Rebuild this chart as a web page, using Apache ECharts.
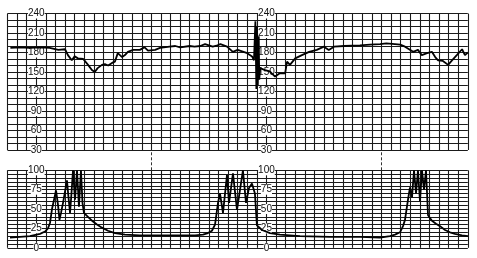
<!DOCTYPE html>
<html>
<head>
<meta charset="utf-8">
<script src="https://cdn.jsdelivr.net/npm/echarts@6/dist/echarts.min.js"></script>
<style>
html,body{margin:0;padding:0;background:#fff;}
#c{width:477px;height:258px;}
</style>
</head>
<body>
<div id="c"></div>
<script>
// Time in grid divisions
var fhrTime = [-1.7,-0.7,0.3,1.4,2.4,3.3,4.0,4.3,4.7,5.0,5.35,5.9,6.4,6.8,7.1,7.4,7.85,8.15,8.5,8.9,9.2,9.5,9.95,10.25,10.55,11.1,11.8,12.3,12.65,13.4,13.9,14.9,15.5,16.0,17.0,17.5,18.1,18.6,19.4,19.9,20.2,20.9,21.5,22.0,23.0,23.5,23.7,23.85,23.95,24.0,24.1,24.2,24.25,24.35,24.85,25.35,25.9,26.4,26.95,27.15,27.45,28.0,28.7,29.45,30.25,31.0,31.5,32.05,33.1,34.75,35.8,36.85,37.5,38.4,38.95,39.45,40.0,40.3,40.8,41.2,41.75,42.25,42.6,42.9,43.4,43.95,44.35,44.85,45.4,45.7,46.0];
var fhrBpm = [187,188,187,188,187,184,185,176,168,174,171,170,161,153,150,156,161,162,160,164,166,179,173,176,181,184,184,188,183,184,187,189,190,188,190,189,190,193,189,191,193,189,181,184,179,174,168,228,124,220,130,205,138,156,153,151,143,148,148,166,161,171,176,181,184,189,184,189,190,191,192,193,194,193,192,189,184,181,184,176,179,181,173,168,167,161,168,176,185,176,180];

var ucTime = [-1.74,-0.7,0.34,1.39,1.91,2.22,2.43,2.64,2.85,3.06,3.27,3.42,3.58,3.79,3.99,4.2,4.36,4.52,4.67,4.83,5.04,5.25,5.45,5.66,5.82,5.97,6.39,6.81,7.33,7.85,8.48,9.21,10.25,11.81,13.9,15.99,17.55,18.38,18.9,19.32,19.64,19.95,20.16,20.47,20.89,21.1,21.51,21.93,22.55,22.87,23.18,23.49,23.8,24.01,24.54,25.37,26.41,28.5,31.63,34.76,36.84,37.88,38.41,38.93,39.24,39.45,39.76,39.97,40.18,40.39,40.6,40.8,41.01,41.22,41.43,41.64,41.85,42.26,42.68,43.1,43.62,44.14,44.66,45.39,46.02];
var ucValue = [13,14,15,18,21,25,32,50,62,74,55,36,45,58,72,87,65,45,70,100,62,100,53,100,58,45,40,35,30,26,22,19,17,16,16,16,16,17,19,22,30,58,70,45,94,58,96,49,100,58,77,83,70,29,23,19,17,15,14,14,13,15,17,20,28,36,62,78,65,100,70,100,60,100,75,100,42,35,31,28,23,20,18,16,15];

var fhrTicks = [30, 240, 10, 30];   // min, max, minor step, label step
var ucTicks = [0, 100, 5, 25];
var connectorTimes = [13, 37];
var labelColumns = [1, 25];          // divisions where the scale labels sit

function zip(a, b){ var r=[]; for(var i=0;i<a.length;i++) r.push([a[i], b[i]]); return r; }

var GL = 7.5, DIV = 9.59, XMIN = -2, XMAX = 46;
var GW = (XMAX - XMIN) * DIV;
var gridColor = '#1a1a1a';

function xAx(gi, showSplit){
  return {type:'value', gridIndex:gi, min:XMIN, max:XMAX, interval:1,
    axisLine:{show:false}, axisTick:{show:false}, axisLabel:{show:false},
    splitLine:{show:showSplit, lineStyle:{color:gridColor, width:1.1}}};
}
function gridAx(gi, t){
  return {type:'value', gridIndex:gi, min:t[0], max:t[1], interval:t[2],
    axisLine:{show:false}, axisTick:{show:false}, axisLabel:{show:false},
    splitLine:{show:true, lineStyle:{color:gridColor, width:1.1}}};
}
function labelAx(gi, t, col){
  return {type:'value', gridIndex:gi, min:t[0], max:t[1], interval:t[3], position:'left',
    offset: -((col - XMIN) * DIV),
    axisLine:{show:false}, axisTick:{show:false}, splitLine:{show:false},
    axisLabel:{show:true, align:'center', margin:0, color:'#111',
      fontFamily:'Liberation Sans, Arial, sans-serif', fontSize:10,
      backgroundColor:'#fff', padding:[0,0]}};
}

var chart = echarts.init(document.getElementById('c'), null, {renderer:'canvas'});
chart.setOption({
  animation:false,
  backgroundColor:'#fff',
  grid:[
    {left:GL, top:13.5, width:GW, height:136.5},
    {left:GL, top:170.3, width:GW, height:77.5},
    {left:GL, top:150, width:GW, height:20.3}
  ],
  xAxis:[xAx(0,true), xAx(1,true), xAx(2,false)],
  yAxis:[
    gridAx(0, fhrTicks),
    labelAx(0, fhrTicks, labelColumns[0]),
    labelAx(0, fhrTicks, labelColumns[1]),
    gridAx(1, ucTicks),
    labelAx(1, ucTicks, labelColumns[0]),
    labelAx(1, ucTicks, labelColumns[1]),
    {type:'value', gridIndex:2, min:0, max:1, show:false}
  ],
  series:[
    {type:'line', xAxisIndex:0, yAxisIndex:0, data:zip(fhrTime, fhrBpm),
     symbol:'none', lineStyle:{color:'#000', width:1.8}, z:5},
    {type:'line', xAxisIndex:1, yAxisIndex:3, data:zip(ucTime, ucValue),
     symbol:'none', lineStyle:{color:'#000', width:1.8}, z:5},
    {type:'line', xAxisIndex:2, yAxisIndex:6, data:[[XMIN,0],[XMAX,0]],
     symbol:'none', lineStyle:{opacity:0}, silent:true,
     markLine:{symbol:'none', silent:true, label:{show:false},
       lineStyle:{color:'#333', type:[3,2], width:1},
       data: connectorTimes.map(function(t){ return {xAxis:t}; })}}
  ]
});
</script>
</body>
</html>
